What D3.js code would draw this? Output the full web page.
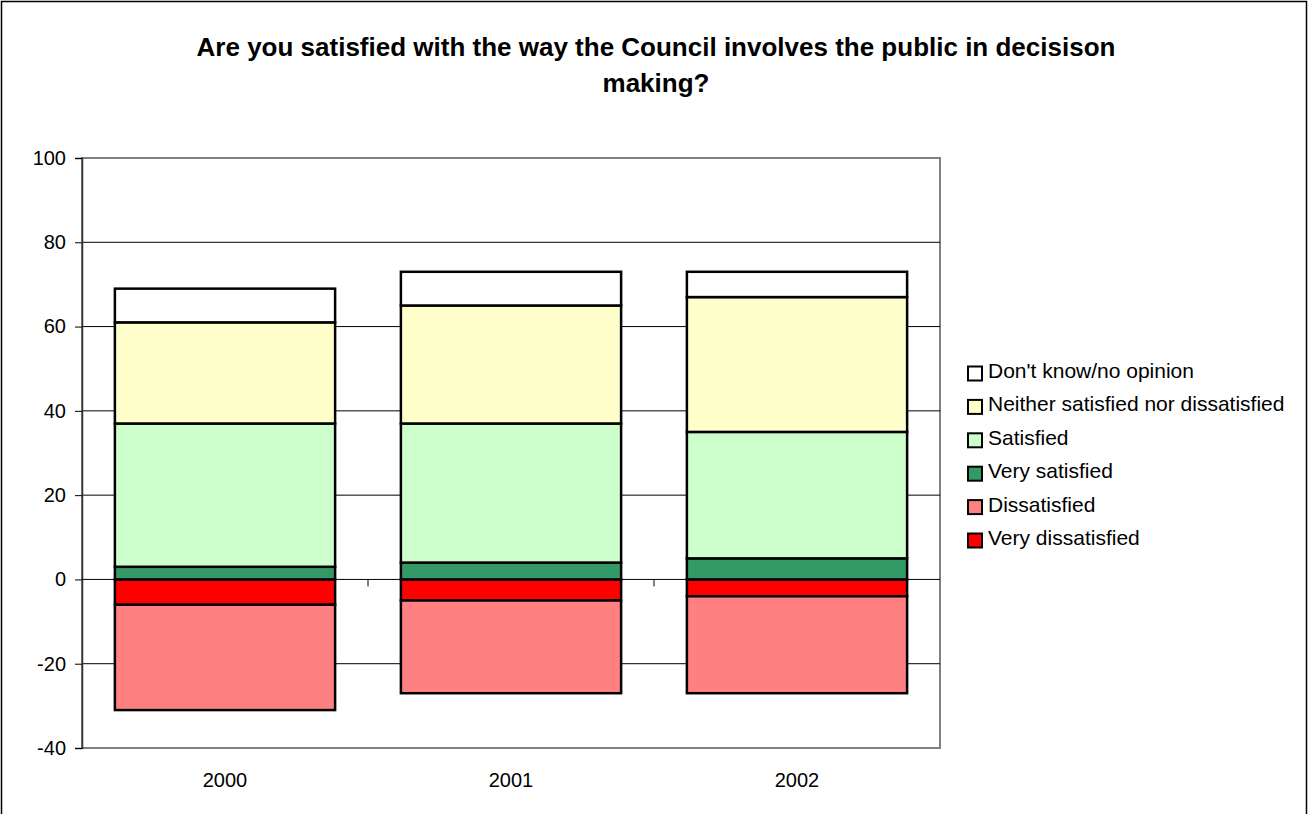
<!DOCTYPE html>
<html>
<head>
<meta charset="utf-8">
<script src="https://cdn.jsdelivr.net/npm/d3@7"></script>
<style>
  body { margin: 0; background: #fff; }
  svg { display: block; font-family: "Liberation Sans", Arial, sans-serif; }
</style>
</head>
<body>
<svg id="chart" width="1308" height="814"></svg>
<script>
// --- data ---
const years = ["2000", "2001", "2002"];
const veryDissatisfied = [6, 5, 4];
const dissatisfied = [25, 22, 23];
const verySatisfied = [3, 4, 5];
const satisfied = [34, 33, 30];
const neither = [24, 28, 32];
const dontKnow = [8, 8, 6];
const yTicks = [-40, -20, 0, 20, 40, 60, 80, 100];

// series above zero stack upward, below zero stack downward
const posSeries = [
    { name: "Very satisfied", values: verySatisfied, color: "#339966" },
    { name: "Satisfied", values: satisfied, color: "#CCFFCC" },
    { name: "Neither satisfied nor dissatisfied", values: neither, color: "#FFFFCC" },
    { name: "Don't know/no opinion", values: dontKnow, color: "#FFFFFF" }
];
const negSeries = [
    { name: "Very dissatisfied", values: veryDissatisfied, color: "#FF0000" },
    { name: "Dissatisfied", values: dissatisfied, color: "#FF8080" }
];
const legendOrder = ["Don't know/no opinion", "Neither satisfied nor dissatisfied", "Satisfied",
                     "Very satisfied", "Dissatisfied", "Very dissatisfied"];

const svg = d3.select("#chart");
const W = 1308, H = 814;

// outer chart border
svg.append("rect").attr("x", 1.5).attr("y", 1.5).attr("width", W - 3).attr("height", H + 10)
    .attr("fill", "#fff").attr("stroke", "#000").attr("stroke-width", 1.5);

// title
svg.append("text").attr("x", 656).attr("y", 56).attr("text-anchor", "middle")
    .attr("font-size", 26).attr("font-weight", "bold")
    .text("Are you satisfied with the way the Council involves the public in decisison");
svg.append("text").attr("x", 656).attr("y", 92).attr("text-anchor", "middle")
    .attr("font-size", 26).attr("font-weight", "bold").text("making?");

const plot = { left: 82, top: 158, right: 940, bottom: 748 };

const x = d3.scaleBand().domain(years).range([plot.left, plot.right]).paddingInner(0.23).paddingOuter(0.115);
const y = d3.scaleLinear().domain([-40, 100]).range([plot.bottom, plot.top]);

// plot frame (gray)
svg.append("rect").attr("x", plot.left).attr("y", plot.top)
    .attr("width", plot.right - plot.left).attr("height", plot.bottom - plot.top)
    .attr("fill", "#fff").attr("stroke", "#808080").attr("stroke-width", 2);

// gridlines
svg.append("g").selectAll("line").data(yTicks.filter(d => d !== -40 && d !== 100 && d !== 0)).enter()
    .append("line")
    .attr("x1", plot.left).attr("x2", plot.right)
    .attr("y1", d => y(d)).attr("y2", d => y(d))
    .attr("stroke", "#000").attr("stroke-width", 1);

// y axis
const yAxis = svg.append("g").attr("transform", `translate(${plot.left},0)`)
    .call(d3.axisLeft(y).tickValues(yTicks).tickSize(7).tickPadding(9).tickFormat(d => String(d)));
yAxis.select(".domain").attr("stroke", "#333").attr("stroke-width", 1.5);
yAxis.selectAll(".tick line").attr("stroke", "#000");
yAxis.selectAll("text").attr("font-size", 20).attr("fill", "#000")
    .attr("font-family", "Liberation Sans, Arial, sans-serif");

// negatives stack from zero downward
(function () {
    const base = years.map(() => 0);
    negSeries.forEach(s => {
        svg.append("g").selectAll("rect").data(years).enter().append("rect")
            .attr("x", d => x(d))
            .attr("width", x.bandwidth())
            .attr("y", (d, i) => y(-base[i]))
            .attr("height", (d, i) => y(-base[i] - s.values[i]) - y(-base[i]))
            .attr("fill", s.color)
            .attr("stroke", "#000").attr("stroke-width", 2.5);
        years.forEach((d, i) => { base[i] += s.values[i]; });
    });
})();
// positives stack upward
(function () {
    const base = years.map(() => 0);
    posSeries.forEach(s => {
        svg.append("g").selectAll("rect").data(years).enter().append("rect")
            .attr("x", d => x(d))
            .attr("width", x.bandwidth())
            .attr("y", (d, i) => y(base[i] + s.values[i]))
            .attr("height", (d, i) => y(base[i]) - y(base[i] + s.values[i]))
            .attr("fill", s.color)
            .attr("stroke", "#000").attr("stroke-width", 2.5);
        years.forEach((d, i) => { base[i] += s.values[i]; });
    });
})();

// x axis at zero, ticks between categories
const xAxisG = svg.append("g");
xAxisG.append("line").attr("x1", plot.left).attr("x2", plot.right)
    .attr("y1", y(0)).attr("y2", y(0)).attr("stroke", "#000").attr("stroke-width", 1);
xAxisG.selectAll(".xt").data(d3.range(1, years.length)).enter().append("line")
    .attr("x1", i => plot.left + i * (plot.right - plot.left) / years.length)
    .attr("x2", i => plot.left + i * (plot.right - plot.left) / years.length)
    .attr("y1", y(0)).attr("y2", y(0) + 7).attr("stroke", "#000");

// category labels
svg.append("g").selectAll("text").data(years).enter().append("text")
    .attr("x", d => x(d) + x.bandwidth() / 2)
    .attr("y", 787).attr("text-anchor", "middle").attr("font-size", 20)
    .text(d => d);

// legend
const allSeries = posSeries.concat(negSeries);
const legend = svg.append("g").attr("transform", "translate(968,373.5)");
legendOrder.forEach((name, i) => {
    const s = allSeries.find(a => a.name === name);
    const row = legend.append("g").attr("transform", `translate(0,${i * 33.4})`);
    row.append("rect").attr("x", 0).attr("y", -7).attr("width", 14).attr("height", 14)
        .attr("fill", s.color).attr("stroke", "#000").attr("stroke-width", 2);
    row.append("text").attr("x", 20).attr("y", 4.5).attr("font-size", 21).text(name);
});
</script>
</body>
</html>
